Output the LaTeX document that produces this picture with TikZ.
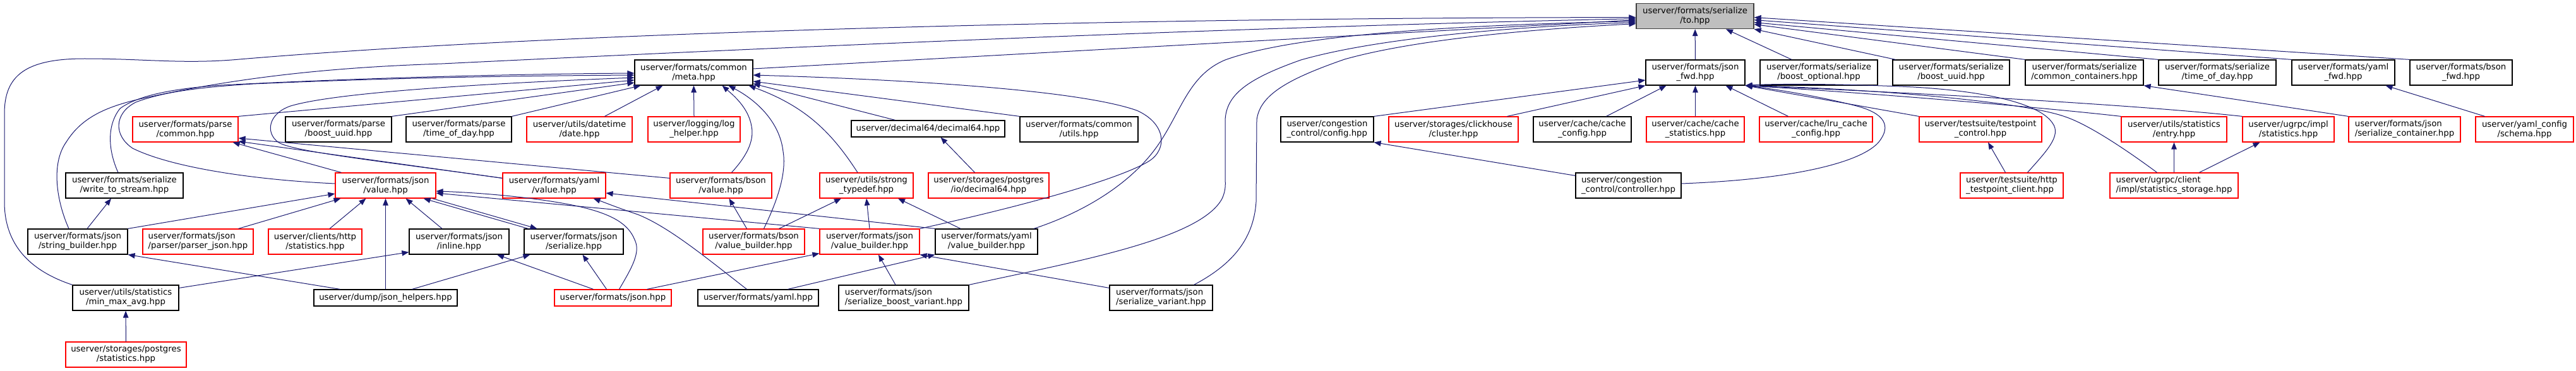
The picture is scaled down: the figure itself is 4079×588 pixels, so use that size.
\documentclass[tikz,border=0pt]{standalone}
\usepackage{fontspec}
\setmainfont{DejaVu Sans}
\usepackage{tikz}
\usetikzlibrary{arrows.meta}
\definecolor{edgeblue}{RGB}{25,25,112}
\definecolor{rootgray}{RGB}{191,191,191}
\definecolor{rootline}{RGB}{64,64,64}

\begin{document}
\begin{tikzpicture}[
x=1pt, y=-1pt,
filebox/.style={rectangle, draw=black, line width=1.2pt, fill=white, inner sep=2pt, minimum height=40pt, align=center, font=\fontsize{13.3}{15}\selectfont},
redbox/.style={filebox, draw=red},
rootbox/.style={filebox, fill=rootgray, draw=rootline},
oneline/.style={minimum height=26pt},
leftalign/.style={align=left},
arrow/.style={-{Triangle[length=11pt, width=8.5pt]}, draw=edgeblue, line width=1pt}
]
\useasboundingbox (0,0) rectangle (4079,588);

\node[rootbox, minimum width=186pt] (to) at (2684,25.6) {userver/formats/serialize\\/to.hpp};

\node[filebox, minimum width=187pt] (meta) at (1098.5,115) {userver/formats/common\\/meta.hpp};
\node[filebox, minimum width=157pt] (jsonfwd) at (2684.5,115) {userver/formats/json\\\_fwd.hpp};
\node[filebox, minimum width=186pt] (boostopt) at (2880,115) {userver/formats/serialize\\/boost\_optional.hpp};
\node[filebox, minimum width=185pt] (boostuuid) at (3089.5,115) {userver/formats/serialize\\/boost\_uuid.hpp};
\node[filebox, minimum width=187pt] (commoncont) at (3300.5,115) {userver/formats/serialize\\/common\_containers.hpp};
\node[filebox, minimum width=186pt] (sertod) at (3511,115) {userver/formats/serialize\\/time\_of\_day.hpp};
\node[filebox, minimum width=163pt] (yamlfwd) at (3710.5,115) {userver/formats/yaml\\\_fwd.hpp};
\node[filebox, minimum width=162pt] (bsonfwd) at (3897,115) {userver/formats/bson\\\_fwd.hpp};

\node[redbox, minimum width=167pt] (parsecommon) at (293.5,205) {userver/formats/parse\\/common.hpp};
\node[filebox, minimum width=168pt] (parseuuid) at (536,205) {userver/formats/parse\\/boost\_uuid.hpp};
\node[filebox, minimum width=167pt] (parsetod) at (726.5,205) {userver/formats/parse\\/time\_of\_day.hpp};
\node[redbox, minimum width=167pt] (date) at (917.5,205) {userver/utils/datetime\\/date.hpp};
\node[redbox, minimum width=146pt] (loghelper) at (1099,205) {userver/logging/log\\\_helper.hpp};
\node[filebox, oneline, minimum width=243pt] (decimal) at (1469.5,204) {userver/decimal64/decimal64.hpp};
\node[filebox, minimum width=187pt] (commonutils) at (1708.5,205) {userver/formats/common\\/utils.hpp};
\node[filebox, leftalign, minimum width=147pt] (ccconfig) at (2101.5,205) {userver/congestion\\\_control/config.hpp};
\node[redbox, minimum width=205pt] (cluster) at (2301.5,205) {userver/storages/clickhouse\\/cluster.hpp};
\node[filebox, minimum width=155pt] (cacheconfig) at (2505.5,205) {userver/cache/cache\\\_config.hpp};
\node[redbox, minimum width=155pt] (cachestat) at (2684.5,205) {userver/cache/cache\\\_statistics.hpp};
\node[redbox, minimum width=179pt] (lruconfig) at (2875.5,205) {userver/cache/lru\_cache\\\_config.hpp};
\node[redbox, minimum width=194pt] (tpcontrol) at (3136,205) {userver/testsuite/testpoint\\\_control.hpp};
\node[redbox, minimum width=167pt] (entry) at (3442.5,205) {userver/utils/statistics\\/entry.hpp};
\node[redbox, minimum width=145pt] (ugrpcstat) at (3623.5,205) {userver/ugrpc/impl\\/statistics.hpp};
\node[redbox, leftalign, minimum width=177pt] (sercontainer) at (3807.5,205) {userver/formats/json\\/serialize\_container.hpp};
\node[redbox, minimum width=155pt] (schema) at (3997.5,205) {userver/yaml\_config\\/schema.hpp};

\node[filebox, minimum width=186pt] (writestream) at (197,294) {userver/formats/serialize\\/write\_to\_stream.hpp};
\node[redbox, minimum width=159pt] (jsonvalue) at (610.5,294) {userver/formats/json\\/value.hpp};
\node[redbox, minimum width=163pt] (yamlvalue) at (877.5,294) {userver/formats/yaml\\/value.hpp};
\node[redbox, minimum width=161pt] (bsonvalue) at (1141.5,294) {userver/formats/bson\\/value.hpp};
\node[redbox, minimum width=148pt] (strongtd) at (1372,294) {userver/utils/strong\\\_typedef.hpp};
\node[redbox, minimum width=191pt] (pgdecimal) at (1565.5,294) {userver/storages/postgres\\/io/decimal64.hpp};
\node[filebox, leftalign, minimum width=167pt] (controller) at (2578.5,294) {userver/congestion\\\_control/controller.hpp};
\node[redbox, leftalign, minimum width=163pt] (tpclient) at (3185.5,294) {userver/testsuite/http\\\_testpoint\_client.hpp};
\node[redbox, leftalign, minimum width=203pt] (statstorage) at (3442.5,294) {userver/ugrpc/client\\/impl/statistics\_storage.hpp};

\node[filebox, minimum width=158pt] (strbuilder) at (123,383) {userver/formats/json\\/string\_builder.hpp};
\node[redbox, leftalign, minimum width=175pt] (parserjson) at (313.5,383) {userver/formats/json\\/parser/parser\_json.hpp};
\node[redbox, minimum width=148pt] (httpstat) at (499,383) {userver/clients/http\\/statistics.hpp};
\node[filebox, minimum width=158pt] (jsoninline) at (727,383) {userver/formats/json\\/inline.hpp};
\node[filebox, minimum width=157pt] (serialize) at (908.5,383) {userver/formats/json\\/serialize.hpp};
\node[redbox, minimum width=161pt] (bsonvb) at (1193.5,383) {userver/formats/bson\\/value\_builder.hpp};
\node[redbox, minimum width=158pt] (jsonvb) at (1377,383) {userver/formats/json\\/value\_builder.hpp};
\node[filebox, minimum width=162pt] (yamlvb) at (1562,383) {userver/formats/yaml\\/value\_builder.hpp};

\node[filebox, minimum width=168pt] (minmax) at (199,472) {userver/utils/statistics\\/min\_max\_avg.hpp};
\node[filebox, oneline, minimum width=227pt] (jsonhelpers) at (610.5,472) {userver/dump/json\_helpers.hpp};
\node[redbox, oneline, minimum width=185pt] (jsonhpp) at (970.5,472) {userver/formats/json.hpp};
\node[filebox, oneline, minimum width=191pt] (yamlhpp) at (1200.5,472) {userver/formats/yaml.hpp};
\node[filebox, leftalign, minimum width=206pt] (boostvariant) at (1431,472) {userver/formats/json\\/serialize\_boost\_variant.hpp};
\node[filebox, leftalign, minimum width=163pt] (sertvariant) at (1838.5,472) {userver/formats/json\\/serialize\_variant.hpp};

\node[redbox, minimum width=191pt] (pgstat) at (199.5,562) {userver/storages/postgres\\/statistics.hpp};

\draw[arrow] (jsonfwd) -- (to);
\draw[arrow] ([xshift=-43]boostopt.north) -- ([xshift=49]to.south);
\draw[arrow] ([xshift=-88]boostuuid.north) -- (to.south east);
\draw[arrow] (commoncont.north west) -- ([yshift=-13]to.east);
\draw[arrow] (sertod.north west) -- ([yshift=-10]to.east);
\draw[arrow] (yamlfwd.north west) -- ([yshift=-6]to.east);
\draw[arrow] (bsonfwd.north west) -- ([yshift=-2]to.east);
\draw[arrow] ([yshift=6]meta.east) -- ([yshift=-6]to.west);
\draw[arrow] (minmax.north west) .. controls (50,430) and (7,390) .. (7,320) -- (7,180) .. controls (7,120) and (40,93) .. (134,93) .. controls (230,93) and (290,102) .. (379,94) .. controls (900,50) and (1800,28) .. ([yshift=-2]to.west);
\draw[arrow] ([xshift=-14]strbuilder.north) .. controls (90,320) and (80,260) .. (105,225) .. controls (130,185) and (170,168) .. (230,155) .. controls (400,118) and (550,106) .. (700,101) .. controls (1500,62) and (2100,40) .. ([yshift=-4]to.west);
\draw[arrow] ([xshift=75]yamlvb.north) .. controls (1720,335) and (1790,290) .. (1830,235) .. controls (1870,180) and (1880,120) .. (1940,95) .. controls (2050,55) and (2300,40) .. ([yshift=-8]to.west);
\draw[arrow] (boostvariant.north east) .. controls (1700,415) and (1900,380) .. (1935,315) .. controls (1942,300) and (1940,290) .. (1940,280) -- (1940,190) .. controls (1942,150) and (1975,125) .. (2060,95) .. controls (2200,55) and (2450,40) .. ([yshift=-10]to.west);
\draw[arrow] ([xshift=52]sertvariant.north) .. controls (1950,420) and (1985,380) .. (1989,320) -- (1990,190) .. controls (1995,150) and (2040,125) .. (2129,94) .. controls (2250,60) and (2450,45) .. ([yshift=-12]to.west);

\draw[arrow] (parsecommon.north east) -- ([yshift=-12]meta.west);
\draw[arrow] (parseuuid.north east) -- ([yshift=-16]meta.west);
\draw[arrow] (parsetod.north east) -- ([xshift=10]meta.south west);
\draw[arrow] ([xshift=40]date.north) -- ([xshift=-49]meta.south);
\draw[arrow] (loghelper.north) -- (meta.south);
\draw[arrow] ([xshift=-52]decimal.north) -- ([yshift=3]meta.south east);
\draw[arrow] (commonutils.north west) -- ([yshift=-14]meta.east);
\draw[arrow] (jsonvb.north east) .. controls (1650,320) and (1780,280) .. (1820,255) .. controls (1850,235) and (1845,195) .. (1800,175) .. controls (1700,140) and (1400,125) .. ([yshift=-4]meta.east);
\draw[arrow] ([xshift=-10]writestream.north) .. controls (172,240) and (168,200) .. (190,172) .. controls (220,150) and (280,140) .. (350,135) .. controls (600,122) and (850,117) .. ([yshift=-1]meta.west);
\draw[arrow] ([yshift=3]jsonvalue.west) .. controls (400,285) and (270,265) .. (210,235) .. controls (180,215) and (180,180) .. (215,162) .. controls (260,145) and (320,138) .. (400,133) .. controls (650,122) and (850,120) .. ([yshift=-4]meta.west);
\draw[arrow] ([yshift=-9]yamlvalue.north west) .. controls (600,255) and (460,240) .. (440,225) .. controls (420,210) and (425,180) .. (460,168) .. controls (520,150) and (700,135) .. ([yshift=-8]meta.west);
\draw[arrow] ([xshift=17]bsonvalue.north) .. controls (1180,250) and (1195,225) .. (1190,200) .. controls (1185,170) and (1160,150) .. ([xshift=45]meta.south);
\draw[arrow] ([xshift=16]bsonvb.north) .. controls (1235,310) and (1245,270) .. (1240,240) .. controls (1235,195) and (1200,160) .. ([xshift=55]meta.south);
\draw[arrow] ([xshift=-14]strongtd.north) .. controls (1320,215) and (1280,170) .. ([xshift=87]meta.south);

\draw[arrow] ([xshift=-70]jsonvalue.north) -- ([xshift=-9]parsecommon.south east);
\draw[arrow] ([yshift=-9]bsonvalue.north west) -- ([yshift=-14]parsecommon.east);
\draw[arrow] ([yshift=-9]yamlvalue.north west) -- ([yshift=-19]parsecommon.east);

\draw[arrow] (ccconfig.north east) -- ([yshift=-12]jsonfwd.west);
\draw[arrow] ([xshift=85]cluster.north) -- (jsonfwd.south west);
\draw[arrow] ([xshift=38]cacheconfig.north) -- ([xshift=-46]jsonfwd.south);
\draw[arrow] (cachestat) -- (jsonfwd);
\draw[arrow] ([xshift=-44]lruconfig.north) -- ([xshift=48]jsonfwd.south);
\draw[arrow] ([yshift=3]controller.east) .. controls (2850,284) and (2950,255) .. (2975,225) .. controls (2995,200) and (2985,180) .. (2940,168) .. controls (2870,150) and (2800,140) .. (jsonfwd.south east);
\draw[arrow] (tpcontrol.north west) -- (jsonfwd.south east);
\draw[arrow] ([xshift=25]tpclient.north) .. controls (3240,240) and (3265,215) .. (3250,195) .. controls (3230,165) and (3150,145) .. (3030,138) .. controls (2900,132) and (2800,133) .. (jsonfwd.south east);
\draw[arrow] (entry.north west) .. controls (3250,172) and (3000,150) .. (jsonfwd.south east);
\draw[arrow] ([xshift=-27]statstorage.north) .. controls (3350,225) and (3300,195) .. (3270,185) .. controls (3200,160) and (2950,140) .. (jsonfwd.south east);
\draw[arrow] (ugrpcstat.north west) .. controls (3400,168) and (3100,150) .. (jsonfwd.south east);

\draw[arrow] (sercontainer.north west) -- (commoncont.south east);
\draw[arrow] ([xshift=-63]schema.north) -- ([xshift=67]yamlfwd.south);
\draw[arrow] ([yshift=-5]controller.north west) -- (ccconfig.south east);
\draw[arrow] ([xshift=-10]tpclient.north) -- ([xshift=12]tpcontrol.south);
\draw[arrow] (statstorage) -- (entry);
\draw[arrow] ([xshift=40]statstorage.north) -- ([xshift=-45]ugrpcstat.south);
\draw[arrow] ([xshift=-22]pgdecimal.north) -- ([xshift=20]decimal.south);

\draw[arrow] ([xshift=15]strbuilder.north) -- ([xshift=-21]writestream.south);
\draw[arrow] (strbuilder.north east) -- ([yshift=-13]jsonvalue.west);
\draw[arrow] ([xshift=64]parserjson.north) -- ([xshift=-71]jsonvalue.south);
\draw[arrow] ([xshift=23]httpstat.north) -- ([xshift=-31]jsonvalue.south);
\draw[arrow] (jsonhelpers) -- (jsonvalue);
\draw[arrow] ([xshift=-27]jsoninline.north) -- ([xshift=32]jsonvalue.south);
\draw[arrow] ([xshift=-72]serialize.north) -- ([xshift=-20]jsonvalue.south east);
\draw[arrow] ([xshift=-6]jsonvalue.south east) -- ([xshift=-58]serialize.north);
\draw[arrow] (jsonvb.north west) -- ([yshift=-12]jsonvalue.east);
\draw[arrow] ([xshift=10]jsonhpp.north) .. controls (1000,425) and (1015,400) .. (1005,380) .. controls (995,355) and (970,340) .. (920,328) .. controls (850,312) and (750,305) .. ([yshift=-9]jsonvalue.east);
\draw[arrow] ([xshift=-18]yamlhpp.north) .. controls (1120,410) and (1060,360) .. (1010,340) .. controls (980,330) and (955,320) .. ([xshift=62]yamlvalue.south);
\draw[arrow] (yamlvb.north west) -- ([yshift=-12]yamlvalue.east);
\draw[arrow] ([xshift=-11]bsonvb.north) -- ([xshift=13]bsonvalue.south);
\draw[arrow] ([xshift=40]bsonvb.north) -- ([xshift=-40]strongtd.south);
\draw[arrow] (jsonvb.north) -- (strongtd.south);
\draw[arrow] ([xshift=-41]yamlvb.north) -- ([xshift=50]strongtd.south);

\draw[arrow] ([yshift=-5]minmax.north east) -- ([yshift=4]jsoninline.south west);
\draw[arrow] ([xshift=-31]jsonhpp.north) -- ([xshift=60]jsoninline.south);
\draw[arrow] ([xshift=-10]jsonhpp.north) -- ([xshift=14]serialize.south);
\draw[arrow] ([xshift=54]jsonhpp.north) -- ([yshift=2]jsonvb.south west);
\draw[arrow] ([xshift=-72]jsonhelpers.north) -- (strbuilder.south east);
\draw[arrow] ([xshift=42]jsonhelpers.north) -- ([xshift=10]serialize.south west);
\draw[arrow] ([xshift=47]yamlhpp.north) -- (yamlvb.south west);
\draw[arrow] ([xshift=-13]boostvariant.north) -- ([xshift=14]jsonvb.south);
\draw[arrow] ([yshift=-5]sertvariant.north west) -- (jsonvb.south east);
\draw[arrow] (pgstat) -- (minmax);

\end{tikzpicture}
\end{document}
